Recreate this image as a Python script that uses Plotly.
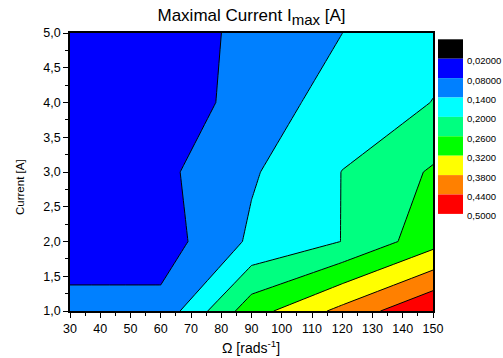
import plotly.graph_objects as go

# ---- data ----
omega = [30, 60, 90, 120, 150]            # rad/s
current = [1.0, 2.0, 3.0, 4.0, 5.0]       # A
imax_1A = [0.098, 0.098, 0.295, 0.397, 0.499]
imax_2A = [0.050, 0.050, 0.150, 0.201, 0.297]
imax_3A = [0.060, 0.0655, 0.1333, 0.201, 0.267]
imax_4A = [0.040, 0.0414, 0.105, 0.1686, 0.201]
imax_5A = [0.045, 0.050, 0.0949, 0.1398, 0.185]

levels = [0.02, 0.08, 0.14, 0.20, 0.26, 0.32, 0.38, 0.44, 0.50]
level_labels = ["0,02000", "0,08000", "0,1400", "0,2000", "0,2600",
                "0,3200", "0,3800", "0,4400", "0,5000"]
band_colors = ["#000000", "#0000FF", "#0080FF", "#00FFFF", "#00FF80",
               "#00FF00", "#FFFF00", "#FF8000", "#FF0000"]

x_ticks = list(range(30, 151, 10))
y_ticks = [1.0, 1.5, 2.0, 2.5, 3.0, 3.5, 4.0, 4.5, 5.0]

# ---- figure ----
W, H = 503, 358
L, R, T, B = 70, 70, 33, 47
PW, PH = W - L - R, H - T - B

def px_x(px):
    return (px - L) / PW

def px_y(py):
    return (H - B - py) / PH

z = [imax_1A, imax_2A, imax_3A, imax_4A, imax_5A]
n = len(levels)
colorscale = [[k / n, band_colors[min(k, n - 1)]] for k in range(n + 1)]

fig = go.Figure()
fig.add_trace(go.Contour(
    x=omega, y=current, z=z,
    contours=dict(start=levels[0], end=levels[-1], size=levels[1] - levels[0],
                  coloring="fill"),
    colorscale=colorscale, showscale=False,
    line=dict(color="black", width=1, smoothing=0),
    hoverinfo="skip",
))

axis_common = dict(showline=True, linecolor="black", linewidth=1.5, mirror=True,
                   showgrid=False, zeroline=False, ticks="outside", ticklen=5,
                   tickwidth=1, tickcolor="black",
                   tickfont=dict(size=12.5, color="black"))

fig.update_xaxes(range=[30, 150], tickmode="array", tickvals=x_ticks,
                 minor=dict(ticks="outside", ticklen=3, tickwidth=1, dtick=5, tick0=30,
                            tickcolor="black"),
                 **axis_common)
fig.update_yaxes(range=[1, 5], tickmode="array", tickvals=y_ticks, tickformat=".1f",
                 minor=dict(ticks="outside", ticklen=3, tickwidth=1, dtick=0.25, tick0=1,
                            tickcolor="black"),
                 **axis_common)

# legend boxes (Origin-style, low values at top)
shapes = []
annotations = []
box_top, box_h = 39.3, 19.4
for k in range(n):
    y0 = box_top + k * box_h
    y1 = y0 + box_h
    shapes.append(dict(type="rect", xref="paper", yref="paper",
                       x0=px_x(438), x1=px_x(463), y0=px_y(y1), y1=px_y(y0),
                       fillcolor=band_colors[k], line=dict(width=0)))
    annotations.append(dict(xref="paper", yref="paper", x=px_x(465), y=px_y(y1 + 2),
                            xanchor="left", yanchor="middle", showarrow=False,
                            text=level_labels[k], font=dict(size=9.5, color="black")))

annotations.append(dict(xref="paper", yref="paper", x=px_x(20), y=px_y(187),
                        xanchor="center", yanchor="middle", showarrow=False,
                        textangle=-90, text="Current [A]",
                        font=dict(size=11.5, color="black")))
annotations.append(dict(xref="paper", yref="paper", x=px_x(251), y=px_y(347),
                        xanchor="center", yanchor="middle", showarrow=False,
                        text="Ω [rads<sup>-1</sup>]",
                        font=dict(size=14, color="black")))

fig.update_layout(
    width=W, height=H,
    margin=dict(l=L, r=R, t=T, b=B, pad=0),
    paper_bgcolor="white", plot_bgcolor="white",
    separators=", ",
    font=dict(family="Liberation Sans, Arial, sans-serif", color="black"),
    title=dict(text="Maximal Current I<sub><span style='font-size:15px'>max</span></sub> [A]",
               x=0.5, xanchor="center", y=1 - 15 / H, yanchor="middle",
               font=dict(size=17, color="black")),
    shapes=shapes, annotations=annotations,
    showlegend=False,
)

fig.write_html("out.html")
